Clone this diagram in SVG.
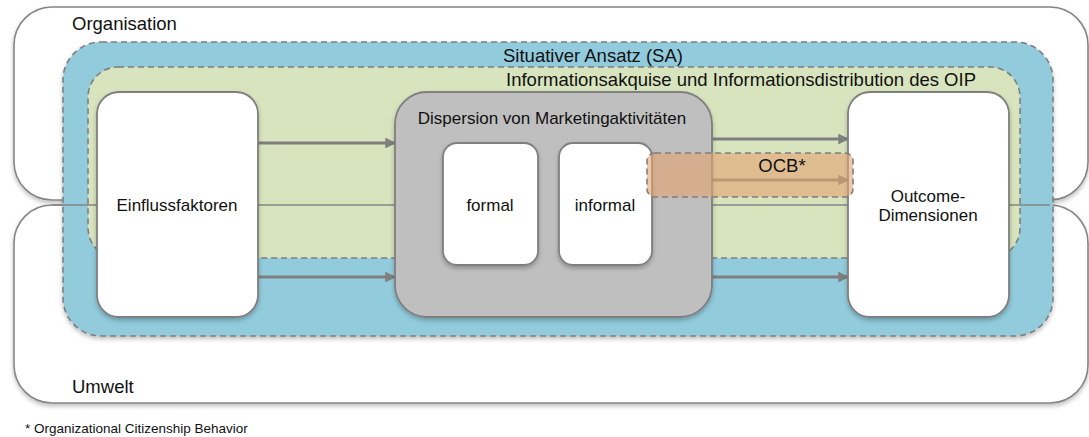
<svg xmlns="http://www.w3.org/2000/svg" width="1089" height="437" viewBox="0 0 1089 437">
  <style>
    text { font-family: "Liberation Sans", Arial, Helvetica, sans-serif; fill: #111; }
    .frame { fill: #ffffff; stroke: #858585; stroke-width: 1.6; }
    .outline { fill: none; stroke: #858585; stroke-width: 1.6; }
    .zone-sa { fill: #92cbdc; stroke: #7f7f7f; stroke-width: 1.6; stroke-dasharray: 6 4; }
    .zone-oip { fill: #d8e4bd; stroke: #7f7f7f; stroke-width: 1.6; stroke-dasharray: 6 4; }
    .node { fill: #ffffff; stroke: #7f7f7f; stroke-width: 1.8; }
    .hub { fill: #bfbfbf; stroke: #7f7f7f; stroke-width: 1.8; }
    .ocb { fill: #e4a472; fill-opacity: 0.6; stroke: #7f7f7f; stroke-width: 1.6; stroke-dasharray: 6 4; }
    .flow { stroke: #7f7f7f; stroke-width: 3; fill: none; marker-end: url(#arrow); }
    .lbl { font-size: 17px; text-anchor: middle; }
    .head { font-size: 18.5px; }
  </style>
  <defs>
    <marker id="arrow" viewBox="0 0 10 10" refX="9" refY="5" markerWidth="4" markerHeight="3.6" orient="auto" markerUnits="strokeWidth">
      <path d="M0,0 L10,5 L0,10 z" fill="#7f7f7f"/>
    </marker>
    <filter id="shadow" x="-10%" y="-10%" width="120%" height="125%">
      <feDropShadow dx="0" dy="2.5" stdDeviation="2" flood-color="#000" flood-opacity="0.25"/>
    </filter>
  </defs>

  <!-- environment frames -->
  <g id="organisation">
    <rect class="frame" x="14" y="7" width="1074" height="193" rx="38" filter="url(#shadow)"/>
    <text class="head" x="72" y="30">Organisation</text>
  </g>
  <g id="umwelt">
    <rect class="frame" x="14" y="205" width="1074" height="198" rx="38" filter="url(#shadow)"/>
    <text class="head" x="72" y="393">Umwelt</text>
  </g>

  <!-- situational approach zone -->
  <g id="situativer-ansatz">
    <rect class="zone-sa" x="63" y="42" width="990" height="294" rx="38" filter="url(#shadow)"/>
    <text class="head" x="593" y="62" text-anchor="middle">Situativer Ansatz (SA)</text>
  </g>

  <!-- information acquisition zone -->
  <g id="oip">
    <rect class="zone-oip" x="88" y="67" width="932" height="191" rx="30"/>
    <text class="head" x="976" y="86" text-anchor="end">Informationsakquise und Informationsdistribution des OIP</text>
  </g>

  <!-- boundary between organisation and environment, running through the zones -->
  <path class="outline" d="M52,205 H1050"/>

  <!-- connectors -->
  <g id="connectors">
    <line class="flow" x1="258" y1="143" x2="395" y2="143"/>
    <line class="flow" x1="258" y1="277" x2="395" y2="277"/>
    <line class="flow" x1="712" y1="139" x2="848" y2="139"/>
    <line class="flow" x1="652" y1="180" x2="848" y2="180"/>
    <line class="flow" x1="712" y1="277" x2="848" y2="277"/>
  </g>

  <g id="einflussfaktoren">
    <rect class="node" x="97" y="92" width="161" height="225" rx="22" filter="url(#shadow)"/>
    <text class="lbl" x="177" y="211">Einflussfaktoren</text>
  </g>

  <g id="dispersion">
    <rect class="hub" x="395" y="92" width="317" height="225" rx="32" filter="url(#shadow)"/>
    <text class="lbl" x="552" y="124">Dispersion von Marketingaktivitäten</text>
  </g>

  <g id="formal">
    <rect class="node" x="443" y="143" width="95" height="122" rx="14" filter="url(#shadow)"/>
    <text class="lbl" x="490" y="211">formal</text>
  </g>

  <g id="informal">
    <rect class="node" x="559" y="143" width="93" height="122" rx="14" filter="url(#shadow)"/>
    <text class="lbl" x="605" y="211">informal</text>
  </g>

  <g id="outcome">
    <rect class="node" x="848" y="92" width="161" height="225" rx="22" filter="url(#shadow)"/>
    <text class="lbl" x="928" y="202">Outcome-</text>
    <text class="lbl" x="928" y="221">Dimensionen</text>
  </g>

  <!-- translucent OCB band laid over the informal-to-outcome connector -->
  <g id="ocb">
    <rect class="ocb" x="647" y="153" width="206" height="44" rx="8"/>
    <text x="782" y="172" text-anchor="middle" font-size="18.5px">OCB*</text>
  </g>

  <text x="25" y="433" font-size="13.5px">* Organizational Citizenship Behavior</text>
</svg>
